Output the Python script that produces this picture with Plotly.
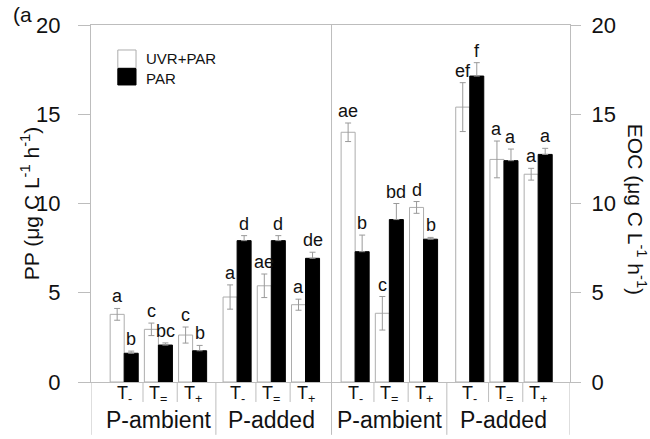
import plotly.graph_objects as go

# Treatment groups, left to right
temperature = ["T<sub>-</sub>", "T<sub>=</sub>", "T<sub>+</sub>"] * 4
phosphorus = ["P-ambient", "P-added", "P-ambient", "P-added"]

# PP (left half) and EOC (right half), ug C L-1 h-1
uvr_par = [3.79, 2.95, 2.63, 4.76, 5.39, 4.33, 13.99, 3.85, 9.78, 15.40, 12.47, 11.64]
uvr_par_err = [0.33, 0.35, 0.45, 0.68, 0.66, 0.31, 0.52, 0.94, 0.33, 1.37, 1.03, 0.33]
par = [1.61, 2.07, 1.75, 7.92, 7.92, 6.93, 7.30, 9.10, 8.00, 17.14, 12.40, 12.75]
par_err = [0.12, 0.12, 0.30, 0.28, 0.28, 0.34, 0.93, 0.90, 0.10, 0.75, 0.65, 0.34]

uvr_par_letters = ["a", "c", "c", "a", "ae", "a", "ae", "c", "d", "ef", "a", "a"]
par_letters = ["b", "bc", "b", "d", "d", "de", "b", "bd", "b", "f", "a", "a"]

# x layout: three treatments per block, four blocks
block_start = [0.0, 3.3, 6.75, 10.1]
centers = [b + i for b in block_start for i in range(3)]
half = 0.205
x_lo, x_hi = -0.97, 13.03

FONT = "Liberation Sans, Arial, sans-serif"
TXT = "#111111"
AXC = "#bdbdbd"
ERRC = "#9a9a9a"


def label(x, y, text, size, xref="x", yref="y", xanchor="center", yanchor="middle", angle=0):
    return dict(x=x, y=y, xref=xref, yref=yref, text=text, showarrow=False,
                xanchor=xanchor, yanchor=yanchor, textangle=angle,
                font=dict(size=size, family=FONT, color=TXT))


fig = go.Figure()

fig.add_trace(go.Bar(
    name="UVR+PAR", x=[c - half for c in centers], y=uvr_par, width=0.41,
    marker=dict(color="white", line=dict(color="#adadad", width=1)),
    error_y=dict(type="data", array=uvr_par_err, color=ERRC, thickness=1, width=3),
    showlegend=False,
))
fig.add_trace(go.Bar(
    name="PAR", x=[c + half for c in centers], y=par, width=0.41,
    marker=dict(color="black", line=dict(color="black", width=1)),
    error_y=dict(type="data", symmetric=False, array=par_err, arrayminus=[0] * len(par),
                 color=ERRC, thickness=1, width=3),
    showlegend=False,
))
# invisible trace so the right-hand EOC axis is drawn
fig.add_trace(go.Scatter(x=[centers[0]], y=[0], yaxis="y2", mode="markers",
                         marker=dict(opacity=0), showlegend=False, hoverinfo="skip"))

annotations = []
# significance letters above the error bars
for c, v, e, t in zip(centers, uvr_par, uvr_par_err, uvr_par_letters):
    annotations.append(label(c - half, v + e, t, 18, yanchor="bottom"))
for c, v, e, t in zip(centers, par, par_err, par_letters):
    annotations.append(label(c + half, v + e, t, 18, yanchor="bottom"))

# treatment and phosphorus labels under the axis
for c, t in zip(centers, temperature):
    annotations.append(label(c, -0.036, t, 18, yref="paper"))
for b, p in zip(block_start, phosphorus):
    annotations.append(label(b + 1, -0.106, p, 23, yref="paper"))

# axis titles, panel tag and legend text
annotations += [
    label(-0.128, 0.50, "PP (μg C L<sup>-1</sup> h<sup>-1</sup>)", 21, xref="paper", yref="paper", angle=-90),
    label(1.14, 0.485, "EOC (μg C L<sup>-1</sup> h<sup>-1</sup>)", 21, xref="paper", yref="paper", angle=90),
    label(-0.166, 1.03, "(a", 21, xref="paper", yref="paper", xanchor="left"),
    label(0.111, 0.905, "UVR+PAR", 15, xref="paper", yref="paper", xanchor="left"),
    label(0.111, 0.851, "PAR", 15, xref="paper", yref="paper", xanchor="left"),
]

shapes = []
# legend swatches
shapes.append(dict(type="rect", xref="paper", yref="paper", x0=0.056, x1=0.094, y0=0.88, y1=0.93,
                   fillcolor="white", line=dict(color="#adadad", width=1)))
shapes.append(dict(type="rect", xref="paper", yref="paper", x0=0.056, x1=0.094, y0=0.832, y1=0.878,
                   fillcolor="black", line=dict(color="black", width=1)))
# dividers between treatments (short) and blocks (long)
for b in block_start:
    for k in (0.55, 1.55):
        shapes.append(dict(type="line", xref="x", yref="paper", x0=b + k, x1=b + k,
                           y0=0, y1=-0.056, line=dict(color=AXC, width=1)))
for xs in (x_lo, 2.68, 9.43, x_hi):
    shapes.append(dict(type="line", xref="x", yref="paper", x0=xs, x1=xs, y0=0, y1=-0.148,
                       line=dict(color=AXC, width=1)))
shapes.append(dict(type="line", xref="x", yref="paper", x0=6.06, x1=6.06, y0=1, y1=-0.148,
                   line=dict(color=AXC, width=1)))

fig.update_layout(
    width=650, height=439,
    margin=dict(l=91, r=80, t=25, b=57),
    paper_bgcolor="white", plot_bgcolor="white",
    barmode="overlay",
    font=dict(family=FONT, color=TXT),
    xaxis=dict(range=[x_lo, x_hi], showticklabels=False, ticks="", showgrid=False, zeroline=False,
               showline=True, linecolor=AXC, linewidth=1, mirror=True),
    yaxis=dict(range=[0, 20], tickvals=[0, 5, 10, 15, 20], ticks="outside", ticklen=12,
               tickcolor=AXC, showgrid=False, zeroline=False, showline=True, linecolor=AXC,
               linewidth=1, tickfont=dict(size=22, family=FONT, color=TXT),
               ticklabelstandoff=13),
    yaxis2=dict(range=[0, 20], overlaying="y", side="right", tickvals=[0, 5, 10, 15, 20],
                ticks="outside", ticklen=10, tickcolor=AXC, showgrid=False, zeroline=False,
                showline=True, linecolor=AXC, linewidth=1,
                tickfont=dict(size=22, family=FONT, color=TXT), ticklabelstandoff=6),
    annotations=annotations,
    shapes=shapes,
)

fig.write_html("out.html")
